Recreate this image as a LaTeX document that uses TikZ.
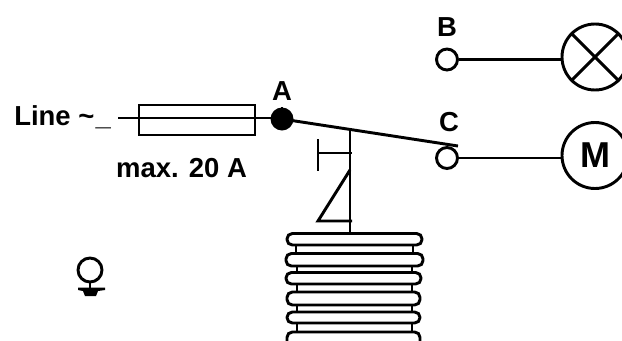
\documentclass[tikz,border=0pt]{standalone}
\usepackage{fontspec}
\setmainfont{Liberation Sans}
\tikzset{
  x=0.75pt,y=-0.75pt,
  wire/.style={line width=2.2pt,black},
  thin wire/.style={line width=1.7pt,black},
  lbl/.style={inner sep=0pt,font=\fontsize{20.6}{22}\selectfont\bfseries,text=black},
  term/.style={circle,draw=black,line width=2.2pt,fill=white,minimum size=21*0.75pt,inner sep=0pt},
  load/.style={circle,draw=black,line width=2.2pt,fill=white,minimum size=66*0.75pt,inner sep=0pt},
  coilbar/.style={draw=black,line width=2.2pt,fill=white,rounded corners=4pt},
}
\begin{document}
\begin{tikzpicture}
\useasboundingbox[clip] (0,0) rectangle (622,340);
\fill[white] (0,0) rectangle (622,340);
% labels
\node[lbl,anchor=west] (line) at (14,117) {Line \textasciitilde\kern1pt\_};
\node[lbl] (max) at (181.5,168) {max. 20 A};
\node[lbl] (la) at (282,91) {A};
\node[lbl] (lb) at (447,27) {B};
\node[lbl] (lc) at (449,122) {C};
% fuse
\coordinate (in) at (118,118);
\node[draw=black,line width=2.2pt,minimum width=116*0.75pt,minimum height=30*0.75pt,inner sep=0pt] (fuse) at (197,120) {};
\node[circle,fill=black,minimum size=23*0.75pt,inner sep=0pt] (A) at (282,119) {};
\draw[thin wire] (in) -- (in -| A.center);
\draw[thin wire] (in -| A.center) -- (A);
% loads
\node[load] (lamp) at (595,57) {};
\node[load,font=\fontsize{27}{29}\selectfont\bfseries] (motor) at (595,155.5) {M};
\node[term] (B) at (447,59.5) {};
\node[term] (C) at (447,158) {};
\draw[wire] (B) -- (B -| lamp.west);
\draw[wire] (C) -- (C -| motor.west);
\draw[wire] (lamp.north west) -- (lamp.south east);
\draw[wire] (lamp.north east) -- (lamp.south west);
% lever
\coordinate (tip) at (458,146);
\draw[wire] (A.center) -- (tip);
\coordinate (pivot) at (350,128);
\coordinate (base) at (350,233);
\draw[wire] (pivot) -- (base);
\coordinate (t1) at (318,139);
\coordinate (t2) at (318,171);
\coordinate (t3) at (318,153);
\coordinate (t4) at (352,153);
\draw[wire] (t1) -- (t2);
\draw[wire] (t3) -- (t4);
\coordinate (w1) at (350,170);
\coordinate (w2) at (318,221);
\coordinate (w3) at (352,221);
\draw[wire,line join=miter] (w1) -- (w2) -- (w3);
% coil
\draw[wire] (296,245) -- (296,254) (413,245) -- (413,254)
  (297,266) -- (297,273) (412,266) -- (412,273)
  (297,284) -- (297,292) (412,284) -- (412,292)
  (297,305) -- (297,312) (412,305) -- (412,312)
  (297,323) -- (297,332) (412,323) -- (412,332);
\draw[coilbar] (287,233.5) rectangle (422,245);
\draw[coilbar] (286,253.5) rectangle (423,266);
\draw[coilbar] (286,272.5) rectangle (421,284);
\draw[coilbar] (287,292) rectangle (420,305);
\draw[coilbar] (287,312) rectangle (420,323);
\draw[coilbar] (287,332) rectangle (420,352);
% symbol
\node[circle,draw=black,line width=2.2pt,minimum size=24*0.75pt,inner sep=0pt] (g) at (90,270) {};
\coordinate (gb) at (90,289);
\draw[wire] (g) -- (gb);
\fill[black] (78,287.5) -- (105,287.5) -- (105,290) -- (98,291) -- (96,296) -- (85,296) -- (83,291) -- (78,290) -- cycle;
\end{tikzpicture}
\end{document}
